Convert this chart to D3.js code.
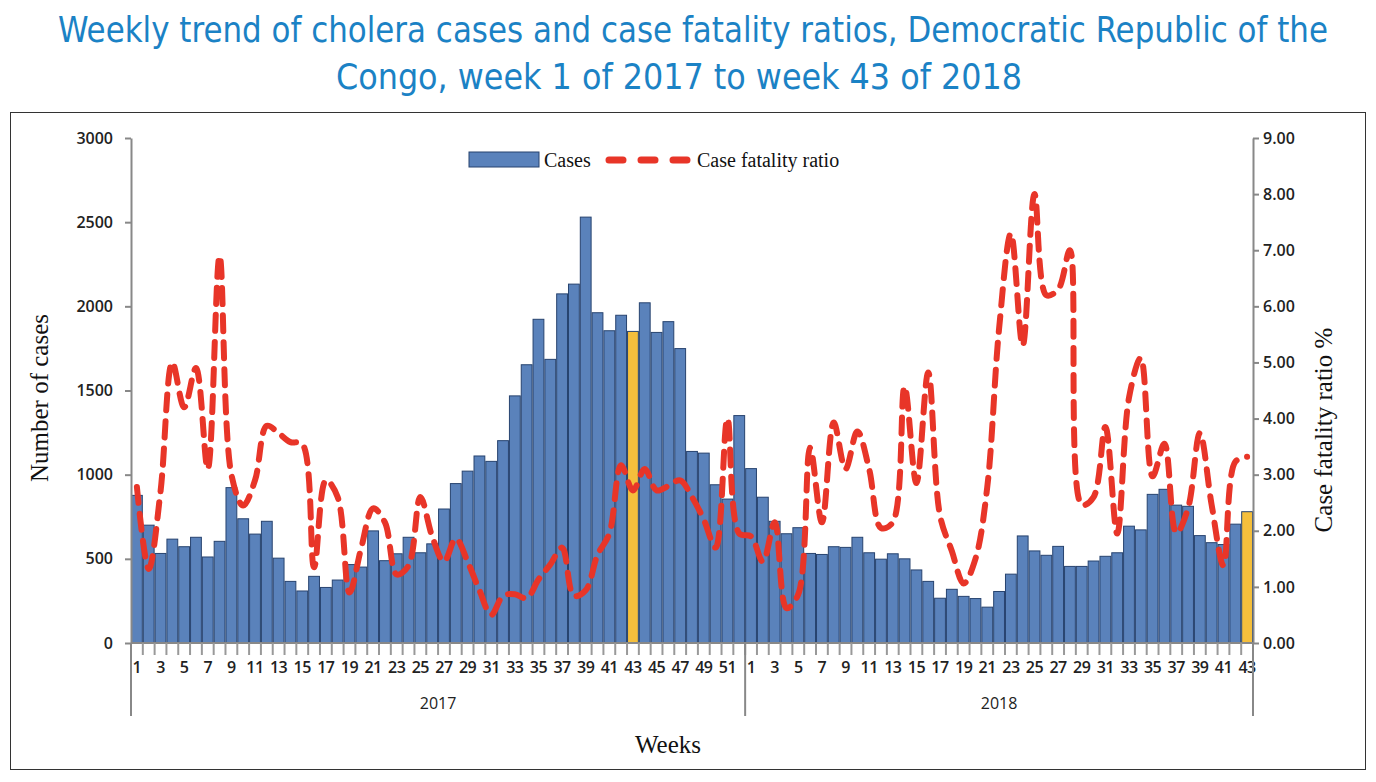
<!DOCTYPE html>
<html><head><meta charset="utf-8">
<script src="https://cdn.jsdelivr.net/npm/d3@7"></script>
<style>body{margin:0;background:#fff}</style>
</head><body><svg id="c" width="1376" height="782"></svg>
<script>
const cases2017=[877,700,532,617,572,628,511,604,923,738,647,723,504,366,309,396,330,374,466,451,666,489,530,628,536,589,796,947,1021,1111,1079,1202,1468,1653,1923,1685,2074,2132,2530,1962,1855,1947,1851,2021,1845,1909,1749,1138,1128,940,855,1351];
const cases2018=[1036,866,723,649,685,532,526,572,568,628,536,498,530,500,434,366,266,319,277,264,213,306,409,636,547,521,574,455,455,487,515,536,694,672,883,913,819,812,638,596,585,706,780];
const cfr2017=[2.78,1.32,2.7,5.0,4.2,4.9,3.1,6.9,3.0,2.45,2.9,3.87,3.74,3.58,3.55,1.35,2.9,2.6,0.9,1.7,2.4,2.15,1.22,1.38,2.6,1.9,1.45,1.86,1.45,0.94,0.5,0.84,0.87,0.8,1.13,1.4,1.7,0.84,0.94,1.57,1.95,3.17,2.72,3.1,2.72,2.8,2.9,2.6,2.2,1.7,4.0,1.95];
const cfr2018=[1.9,1.45,2.15,0.62,0.87,3.48,2.15,3.93,3.1,3.77,3.1,2.05,2.15,4.57,2.85,4.82,2.27,1.64,1.06,1.5,2.78,5.6,7.3,5.3,8.0,6.2,6.3,7.0,2.46,2.6,3.85,1.95,4.37,5.08,2.97,3.55,1.96,2.4,3.74,2.46,1.38,3.23,3.32];
const years=["2017","2018"];
const highlightWeek=43;
const leftTicks=[0,500,1000,1500,2000,2500,3000];
const rightTicks=[0,1,2,3,4,5,6,7,8,9];

const data=[];
cases2017.forEach((v,i)=>data.push({y:years[0],w:i+1,c:v,r:cfr2017[i]}));
cases2018.forEach((v,i)=>data.push({y:years[1],w:i+1,c:v,r:cfr2018[i]}));
data.forEach((d,i)=>d.k=i);

const svg=d3.select("#c");
const L=131,R=1253,T=138,B=643;
const x=d3.scaleBand().domain(data.map(d=>d.k)).range([L,R]).padding(0);
const yL=d3.scaleLinear().domain([0,3000]).range([B,T]);
const yR=d3.scaleLinear().domain([0,9]).range([B,T]);

const tf="'Liberation Sans Narrow','DejaVu Sans Condensed',sans-serif";
svg.append("text").attr("x",693).attr("y",42).attr("text-anchor","middle").attr("font-family",tf).attr("font-size",36).attr("fill","#1b82c5")
 .attr("textLength",1270).attr("lengthAdjust","spacingAndGlyphs").text("Weekly trend of cholera cases and case fatality ratios, Democratic Republic of the");
svg.append("text").attr("x",679).attr("y",89).attr("text-anchor","middle").attr("font-family",tf).attr("font-size",36).attr("fill","#1b82c5")
 .attr("textLength",686).attr("lengthAdjust","spacingAndGlyphs").text("Congo, week 1 of 2017 to week 43 of 2018");
svg.append("rect").attr("x",10.5).attr("y",112.5).attr("width",1355).attr("height",657).attr("fill","none").attr("stroke","#333").attr("stroke-width",1);

svg.append("g").selectAll("rect").data(data).join("rect")
 .attr("x",d=>x(d.k)+0.5).attr("width",x.bandwidth()-1)
 .attr("y",d=>yL(d.c)).attr("height",d=>B-yL(d.c))
 .attr("fill",d=>d.w===highlightWeek?"#f5bf3c":"#5a82bb").attr("stroke","#27436f").attr("stroke-width",1);

const sans="'Open Sans','Liberation Sans',sans-serif";
const ga=svg.append("g").attr("transform",`translate(${L},0)`).call(d3.axisLeft(yL).tickValues(leftTicks).tickFormat(d3.format("d")).tickSize(6).tickSizeOuter(0));
const gb=svg.append("g").attr("transform",`translate(${R},0)`).call(d3.axisRight(yR).tickValues(rightTicks).tickFormat(d3.format(".2f")).tickSize(6).tickSizeOuter(0));
[ga,gb].forEach(g=>{g.selectAll("path,line").attr("stroke","#888").attr("stroke-width",2);g.selectAll("text").attr("font-family",sans).attr("font-size",16).attr("font-weight",600).attr("fill","#222");});
ga.selectAll("text").attr("x",-18);
gb.selectAll("text").attr("x",10);

svg.append("line").attr("x1",L).attr("x2",R).attr("y1",B).attr("y2",B).attr("stroke","#888").attr("stroke-width",2);
const xt=svg.append("g");
data.forEach(d=>{
  xt.append("line").attr("x1",x(d.k)).attr("x2",x(d.k)).attr("y1",B).attr("y2",B+12).attr("stroke","#999").attr("stroke-width",2);
  if(d.w%2===1) xt.append("text").attr("x",x(d.k)+x.bandwidth()/2).attr("y",B+30).attr("text-anchor","middle")
    .attr("font-family",sans).attr("font-size",16).attr("font-weight",600).attr("fill","#222").attr("letter-spacing",-0.5).text(d.w);
});
const firstIdx=years.map(yy=>data.findIndex(d=>d.y===yy));
[x(firstIdx[0]),x(firstIdx[1]),R].forEach(px=>svg.append("line").attr("x1",px).attr("x2",px).attr("y1",B).attr("y2",716).attr("stroke","#888").attr("stroke-width",2));
years.forEach((yy,i)=>{
  const a=x(firstIdx[i]),b=i+1<years.length?x(firstIdx[i+1]):R;
  svg.append("text").attr("x",(a+b)/2).attr("y",709).attr("text-anchor","middle").attr("font-family",sans).attr("font-size",16).attr("fill","#222").text(yy);
});

const line=d3.line().x(d=>x(d.k)+x.bandwidth()/2).y(d=>yR(d.r)).curve(d3.curveCatmullRom.alpha(0.5));
svg.append("path").datum(data).attr("d",line).attr("fill","none").attr("stroke","#e83528").attr("stroke-width",6)
 .attr("stroke-dasharray","16,11").attr("stroke-linecap","round");

const serif="'Liberation Serif','DejaVu Serif',serif";
svg.append("text").attr("transform","translate(48,398) rotate(-90)").attr("text-anchor","middle").attr("font-family",serif).attr("font-size",25).attr("fill","#111").text("Number of cases");
svg.append("text").attr("transform","translate(1332,430) rotate(-90)").attr("text-anchor","middle").attr("font-family",serif).attr("font-size",25).attr("fill","#111").text("Case fatality ratio %");
svg.append("text").attr("x",668).attr("y",753).attr("text-anchor","middle").attr("font-family",serif).attr("font-size",25).attr("fill","#111").text("Weeks");

svg.append("rect").attr("x",469).attr("y",152).attr("width",70).attr("height",15).attr("fill","#5a82bb").attr("stroke","#27436f");
svg.append("text").attr("x",544).attr("y",167).attr("font-family",serif).attr("font-size",20).attr("fill","#111").text("Cases");
svg.append("line").attr("x1",609).attr("x2",688).attr("y1",160).attr("y2",160).attr("stroke","#e83528").attr("stroke-width",7).attr("stroke-linecap","round").attr("stroke-dasharray","14,18");
svg.append("text").attr("x",697).attr("y",167).attr("font-family",serif).attr("font-size",20).attr("fill","#111").text("Case fatality ratio");
</script></body></html>
